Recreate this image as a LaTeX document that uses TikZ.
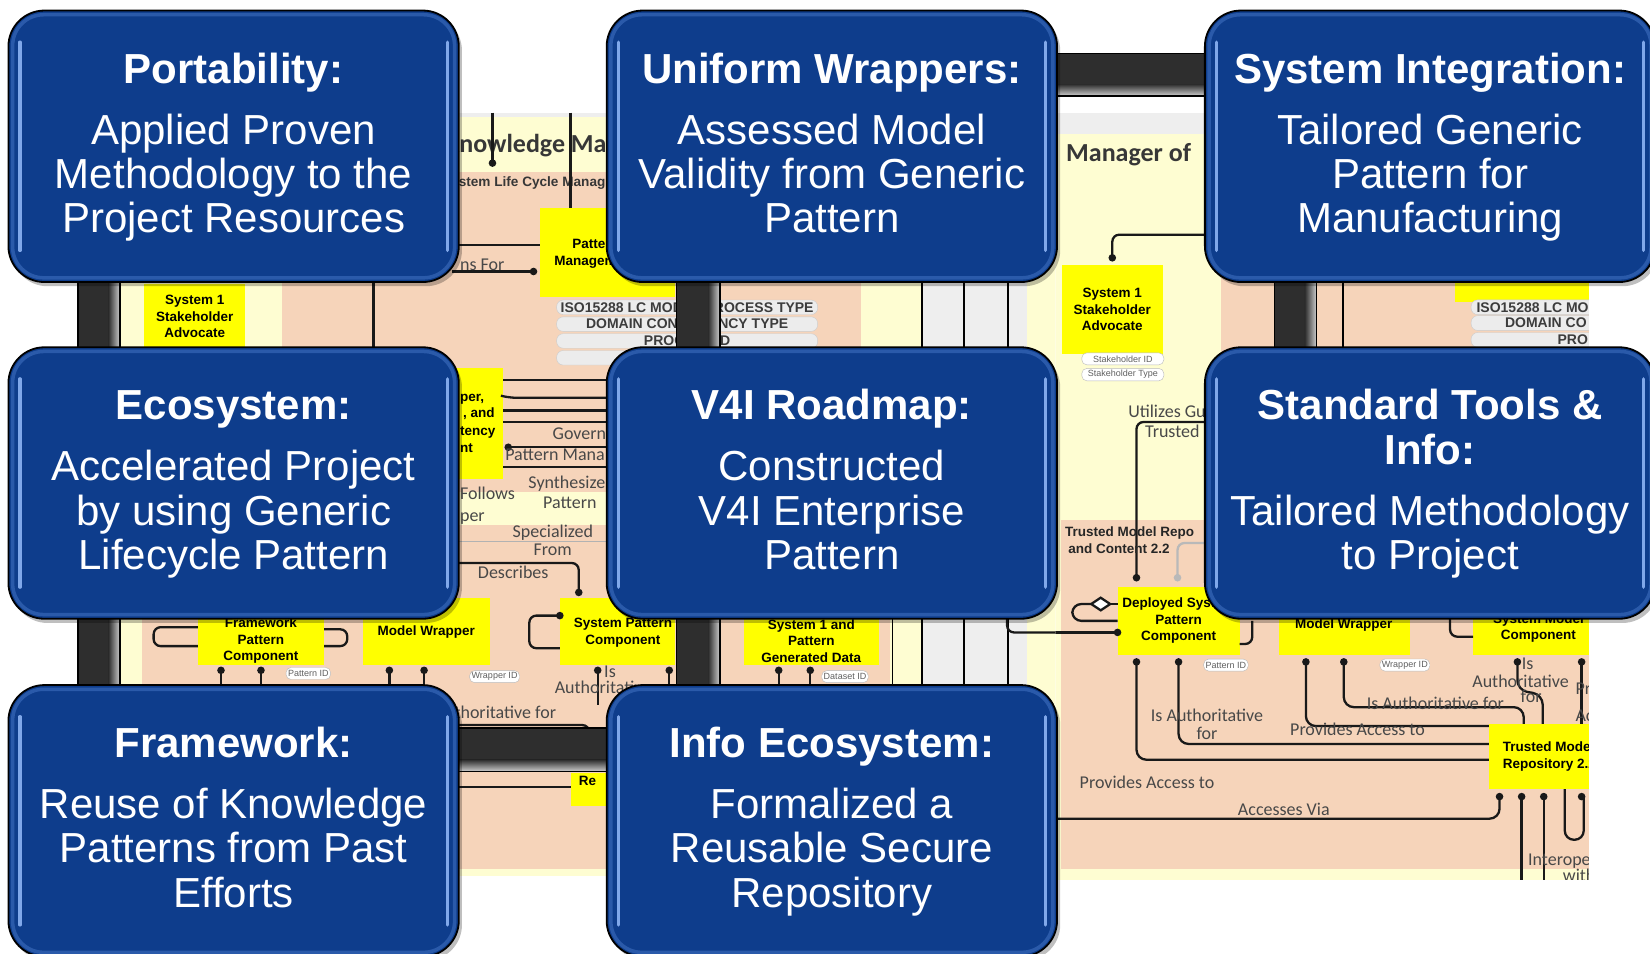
\documentclass[tikz,border=0pt]{standalone}
\usepackage{fontspec}
\setmainfont{Liberation Sans}
\newfontfamily\calib{Carlito}
\usetikzlibrary{calc}

\definecolor{panelblue}{RGB}{14,61,140}
\definecolor{panelrim}{RGB}{50,98,178}
\definecolor{panelglint}{RGB}{128,168,234}
\definecolor{salmon}{RGB}{246,212,186}
\definecolor{cream}{RGB}{254,253,210}
\definecolor{lanegray}{RGB}{238,238,238}
\definecolor{pillgray}{RGB}{236,236,236}
\definecolor{pilltext}{RGB}{60,60,60}
\definecolor{chartyellow}{RGB}{255,255,0}
\definecolor{bardark}{RGB}{46,46,46}
\definecolor{barlight}{RGB}{205,205,205}
\definecolor{labelgray}{RGB}{72,72,72}
\definecolor{wireblack}{RGB}{25,25,25}
\definecolor{titlegray}{RGB}{55,55,55}

\tikzset{
  panel/.style={draw=black, line width=1.8pt, fill=panelblue, rounded corners=36pt,
    minimum width=450.4pt, minimum height=271.5pt, inner sep=0pt, outer sep=0pt},
  ttl/.style={anchor=base, text=white, inner sep=0pt,
    font=\fontsize{42pt}{44pt}\selectfont\bfseries},
  body/.style={anchor=base, text=white, inner sep=0pt,
    font=\fontsize{42pt}{44pt}\selectfont},
  wire/.style={draw=wireblack, line width=2.3pt, rounded corners=7pt},
  ybox/.style={fill=chartyellow},
  ylab/.style={inner sep=0pt, text=black, align=center,
    font=\fontsize{13.5pt}{16.5pt}\selectfont\bfseries},
  clab/.style={inner sep=0pt, text=labelgray,
    font=\calib\fontsize{18pt}{20pt}\selectfont},
  pill/.style={draw=gray!40, fill=pillgray, rounded corners=6.5pt, minimum height=14.5pt,
    inner sep=0pt, text=pilltext, font=\fontsize{14pt}{14pt}\selectfont\bfseries},
  pilltxt/.style={anchor=west, inner sep=0pt, text=pilltext,
    font=\fontsize{14pt}{14pt}\selectfont\bfseries},
  tag/.style={draw=gray!55, fill=white, rounded corners=5pt, minimum height=12pt,
    inner sep=2pt, text=gray!75!black, font=\fontsize{9pt}{9pt}\selectfont},
  barline/.style={draw=black, line width=1.6pt},
}

\newcommand\wiredot[1]{\fill[wireblack] #1 circle[radius=3.8pt];}

\newcommand\panelbox[3]{%
  \fill[black, opacity=0.25, rounded corners=36pt]
    ($(#2,#3)+(-211,-125)$) rectangle ($(#2,#3)+(217,133)$);
  \node[panel] (#1) at (#2,#3) {};
  \draw[panelrim, line width=3.5pt, rounded corners=31pt, opacity=0.8]
    ($(#1.north west)+(4,4)$) rectangle ($(#1.south east)+(-4,-4)$);
  \draw[panelglint, line width=3.2pt, line cap=round]
    ($(#1.north west)+(11,30)$) -- ($(#1.south west)+(11,-30)$);
  \draw[panelglint, line width=3.2pt, line cap=round]
    ($(#1.north east)+(-11,30)$) -- ($(#1.south east)+(-11,-30)$);
}

\begin{document}
\begin{tikzpicture}[x=1.0523pt, y=-1.0523pt]
\useasboundingbox (0,0) rectangle (1568,906);
\fill[white] (0,0) rectangle (1568,906);

% ---------------- left chart ----------------
\begin{scope}
\clip (115,107) rectangle (1003,832);
\fill[cream] (115,107) rectangle (1003,832);
\fill[lanegray] (115,107) rectangle (1003,111);
\fill[salmon] (268,163) rectangle (818,330);
\fill[salmon] (135,330) rectangle (846,826);
\fill[cream] (418,468) rectangle (600,499);
\draw[gray!60, line width=1pt] (418,515) -- (600,515);
\fill[lanegray] (877,163) rectangle (976,826);
\draw[black, line width=1.6pt] (876,163) -- (876,826) (916,163) -- (916,826) (958,163) -- (958,826);
\draw[black, line width=1.6pt] (848,330) -- (848,826);

\node[anchor=base west, inner sep=0pt, text=titlegray, font=\calib\bfseries\fontsize{26pt}{28pt}\selectfont] (kmtitle) at (423,145) {Knowledge Ma};
\node[anchor=base west, inner sep=0pt, text=titlegray, font=\fontsize{13.6pt}{15pt}\selectfont\bfseries] (lcm) at (420,177) {System Life Cycle Manag};

\draw[wire] (468,107) -- (468,155);
\wiredot{(468,155)}
\draw[wire] (542,107) -- (542,198);

\fill[ybox] (513,198) rectangle (641,282);
\node[ylab] (pm) at (566,241) {Pattern\\Management};
\draw[wire] (430,233) -- (513,233);
\draw[wire] (430,258) -- (507,258);
\wiredot{(507,258)}
\node[clab, anchor=base west] (nsfor) at (437,257) {ns For};

\node[pill, minimum width=261pt] (lp1) at (653,292) {ISO15288 LC MODEL PROCESS TYPE};
\node[pill, minimum width=261pt] (lp2) at (653,308) {DOMAIN CONSISTENCY TYPE};
\node[pill, minimum width=261pt] (lp3) at (653,324) {PROCESS ID};
\node[pill, minimum width=261pt] (lp4) at (653,340) {};

\fill[ybox] (137,270) rectangle (233,345);
\node[ylab] (lsa) at (185,301) {System 1\\Stakeholder\\Advocate};
\draw[wire] (355,170) -- (355,345);

% middle lane
\fill[ybox] (420,350) rectangle (478,455);
\node[ylab, anchor=base west] (wp1) at (437,382) {per,};
\node[ylab, anchor=base west] (wp2) at (440,397) {, and};
\node[ylab, anchor=base west] (wp3) at (437,414) {tency};
\node[ylab, anchor=base west] (wp4) at (437,430) {nt};
\draw[wire] (478,361) -- (580,361);
\draw[wire] (476,376) -- (484,378) -- (580,378);
\draw[wire] (478,390) -- (580,390);
\draw[wire] (478,401) -- (580,401);
\draw[wire] (483,425) -- (580,425);
\wiredot{(483,425)}
\draw[wire] (478,444) -- (580,444);
\node[clab, anchor=base west] (govern) at (525,418) {Govern};
\node[clab, anchor=base west] (pmana) at (480,438) {Pattern Mana};
\node[clab, anchor=base west] (synth) at (502,464) {Synthesize};
\node[clab, anchor=base west] (follows) at (437,475) {Follows};
\node[clab, anchor=base west] (patt) at (516,483) {Pattern};
\node[clab, anchor=base west] (perw) at (437,496) {per};
\node[clab, anchor=base west] (spec) at (487,511) {Specialized};
\node[clab, anchor=base west] (from) at (507,528) {From};
\node[clab, anchor=base west] (descr) at (454,550) {Describes};
\draw[wire] (430,535) -- (550,535) -- (550,563);
\wiredot{(550,563)}

% lower row of components
\fill[ybox] (188,575) rectangle (308,632);
\node[ylab] (fpc) at (248,609) {Framework\\Pattern\\Component};
\draw[wire] (188,596) -- (146,596) -- (146,614) -- (188,614);
\draw[wire] (308,598) -- (330,598) -- (330,614) -- (308,614);
\fill[ybox] (345,568) rectangle (466,632);
\node[ylab] (mw) at (405,601) {Model Wrapper};
\fill[ybox] (532,568) rectangle (641,632);
\node[ylab] (spc) at (592,601) {System Pattern\\Component};
\draw[wire] (532,585) -- (503,585) -- (503,616) -- (532,616);
\wiredot{(532,585)}
\foreach \xx in {210,248,370,403,568,636,740,770} {
  \draw[wire] (\xx,637) -- (\xx,670);
  \wiredot{(\xx,637)}
}
\node[tag] (ptid) at (293,640) {Pattern ID};
\node[tag] (wrid) at (470,643) {Wrapper ID};
\node[tag] (dsid) at (803,643) {Dataset ID};
\node[clab, anchor=base west] (isl) at (574,644) {Is};
\node[clab, anchor=base west] (authl) at (527,659) {Authoritative};
\fill[ybox] (707,575) rectangle (835,632);
\node[ylab] (gd) at (771,609) {System 1 and\\Pattern\\Generated Data};
\draw[wire] (957,560) -- (957,601) -- (1010,601);

\node[clab, anchor=base west] (horit) at (398,683) {Is Authoritative for};
\draw[wire] (430,689) -- (560,689) -- (560,700);
\draw[wire] (430,748) -- (545,748);
\fill[ybox] (543,735) rectangle (585,766);
\node[ylab, anchor=base west] (rep) at (550,746) {Re};
\end{scope}

% ---------------- right chart ----------------
\begin{scope}
\clip (1003,107) rectangle (1510,836);
\fill[cream] (1003,107) rectangle (1510,836);
\fill[lanegray] (1003,107) rectangle (1510,127);
\fill[salmon] (1160,180) rectangle (1510,494);
\fill[salmon] (1008,494) rectangle (1510,826);
\draw[black, line width=1.6pt] (1276,200) -- (1276,340);

\node[anchor=base west, inner sep=0pt, text=titlegray, font=\calib\bfseries\fontsize{26pt}{28pt}\selectfont] (mgr) at (1013,153) {Manager of};

\draw[wire] (1150,223) -- (1057,223) -- (1057,245);
\wiredot{(1057,245)}
\fill[ybox] (1009,252) rectangle (1105,336);
\node[ylab] (rsa) at (1057,294) {System 1\\Stakeholder\\Advocate};
\node[tag, minimum width=82pt] (skid) at (1067,341) {Stakeholder ID};
\node[tag, minimum width=82pt] (sktp) at (1067,356) {Stakeholder Type};

\fill[ybox] (1383,200) rectangle (1515,287);
\foreach \yy in {292,307,323} {
  \filldraw[draw=gray!40, fill=pillgray, rounded corners=6.5pt] (1398,\yy-7) rectangle (1530,\yy+7);
}
\node[pilltxt] (rp1) at (1403,292) {ISO15288 LC MO};
\node[pilltxt] (rp2) at (1430,307) {DOMAIN CO};
\node[pilltxt] (rp3) at (1480,323) {PRO};

\node[clab, anchor=base west] (util) at (1072,397) {Utilizes Gu};
\node[clab, anchor=base west] (trst) at (1088,416) {Trusted};
\draw[wire] (1150,401) -- (1080,401) -- (1080,549);
\wiredot{(1080,549)}

\node[anchor=base west, inner sep=0pt, text=black!85, font=\fontsize{13.5pt}{15pt}\selectfont\bfseries] (tmr) at (1012,510) {Trusted Model Repo};
\node[anchor=base west, inner sep=0pt, text=black!85, font=\fontsize{13.5pt}{15pt}\selectfont\bfseries] (tmc) at (1015,526) {and Content 2.2};
\draw[wire, draw=gray!55] (1150,516) -- (1119,516) -- (1119,549);
\fill[gray!55] (1119,549) circle[radius=3.8pt];

\fill[ybox] (1062,558) rectangle (1178,622);
\node[ylab] (dsp) at (1120,590) {Deployed System\\Pattern\\Component};
\draw[wire, rounded corners=9pt] (1062,590) -- (1019,590) -- (1019,574) -- (1037,574);
\draw[wire, fill=white, rounded corners=0pt] (1037,574) -- (1046,568) -- (1055,574) -- (1046,580) -- cycle;
\draw[wire] (1055,574) -- (1062,574);
\draw[wire] (1003,601) -- (1062,601);
\wiredot{(1062,601)}
\draw[wire] (1178,612) -- (1190,612) -- (1190,590);

\fill[ybox] (1215,560) rectangle (1340,622);
\node[ylab] (rmw) at (1277,594) {Model Wrapper};
\fill[ybox] (1400,560) rectangle (1515,622);
\node[ylab] (smc) at (1462,597) {System Model\\Component};
\draw[wire] (1400,605) -- (1378,605) -- (1378,588);

\node[tag] (rptid) at (1165,632) {Pattern ID};
\node[tag] (rwrid) at (1335,632) {Wrapper ID};

\draw[wire, rounded corners=10pt] (1080,629) -- (1080,722) -- (1415,722);
\draw[wire, rounded corners=10pt] (1120,629) -- (1120,707) -- (1415,707);
\draw[wire, rounded corners=10pt] (1241,629) -- (1241,690) -- (1415,690);
\draw[wire, rounded corners=10pt] (1277,629) -- (1277,672) -- (1448,672) -- (1448,688);
\draw[wire, rounded corners=10pt] (1442,629) -- (1442,656) -- (1466,660) -- (1466,688);
\draw[wire] (1503,629) -- (1503,688);
\foreach \xx in {1080,1120,1241,1277,1442,1503} {\wiredot{(\xx,629)}}

\node[clab] (ia1) at (1147,680) {Is Authoritative};
\node[clab] (ia2) at (1147,697) {for};
\node[clab] (pa1) at (1290,693) {Provides Access to};
\node[clab] (ia3) at (1364,668) {Is Authoritative for};
\node[clab, anchor=base west] (is2) at (1446,636) {Is};
\node[clab] (au2) at (1445,647) {Authoritative};
\node[clab] (fo2) at (1455,662) {for};
\node[clab, anchor=base west] (pr2) at (1497,660) {Provides};
\node[clab, anchor=base west] (ac2) at (1497,686) {Access to};

\fill[ybox] (1415,688) rectangle (1515,750);
\node[anchor=base west, inner sep=0pt, font=\fontsize{13.5pt}{15pt}\selectfont\bfseries] (tm1) at (1428,714) {Trusted Model};
\node[anchor=base west, inner sep=0pt, font=\fontsize{13.5pt}{15pt}\selectfont\bfseries] (tm2) at (1428,730) {Repository 2.2};
\foreach \xx in {1425,1446,1467,1503} {\wiredot{(\xx,757)}}
\draw[wire, rounded corners=10pt] (1425,757) -- (1425,778) -- (1000,778);
\draw[wire] (1446,757) -- (1446,840);
\draw[wire] (1467,757) -- (1467,840);
\draw[wire, rounded corners=9pt] (1487,750) -- (1487,798) -- (1505,798) -- (1505,757);
\node[clab] (pa2) at (1090,743) {Provides Access to};
\node[clab] (accv) at (1220,769) {Accesses Via};
\node[clab, anchor=base west] (inter) at (1452,822) {Interoperates};
\node[clab, anchor=base west] (withw) at (1485,838) {with};
\end{scope}

% ---------------- connector bars ----------------
\fill[bardark] (74,200) rectangle (114,720);
\shade[left color=bardark, right color=barlight] (103,200) rectangle (114,720);
\draw[barline] (74,200) -- (74,720) (114,200) -- (114,720);

\fill[bardark] (643,200) rectangle (684,720);
\shade[left color=bardark, right color=barlight] (673,200) rectangle (684,720);
\draw[barline] (643,200) -- (643,720) (684,200) -- (684,720);

\fill[bardark] (1211,200) rectangle (1251,400);
\shade[left color=bardark, right color=barlight] (1240,200) rectangle (1251,400);
\draw[barline] (1211,200) -- (1211,400) (1251,200) -- (1251,400);

\fill[bardark] (950,51) rectangle (1200,91);
\shade[top color=bardark, bottom color=barlight] (950,80) rectangle (1200,91);
\draw[barline] (950,51) -- (1200,51) (950,91) -- (1200,91);

\fill[bardark] (400,692) rectangle (600,733);
\shade[top color=bardark, bottom color=barlight] (400,722) rectangle (600,733);
\draw[barline] (400,692) -- (600,692) (400,733) -- (600,733);

% ---------------- panels ----------------
\panelbox{port}{222}{139}
\panelbox{wrap}{790.5}{139}
\panelbox{sysint}{1359}{139}
\panelbox{eco}{222}{459}
\panelbox{road}{790.5}{459}
\panelbox{tools}{1359}{459}
\panelbox{frame}{222}{780}
\panelbox{infoeco}{790.5}{780}

\node[ttl]  (port-t) at ($(port.north)+(0,69)$) {Portability:};
\node[body] (port-1) at ($(port.north)+(0,127)$) {Applied Proven};
\node[body] (port-2) at ($(port.north)+(0,169)$) {Methodology to the};
\node[body] (port-3) at ($(port.north)+(0,211)$) {Project Resources};

\node[ttl]  (wrap-t) at ($(wrap.north)+(0,69)$) {Uniform Wrappers:};
\node[body] (wrap-1) at ($(wrap.north)+(0,127)$) {Assessed Model};
\node[body] (wrap-2) at ($(wrap.north)+(0,169)$) {Validity from Generic};
\node[body] (wrap-3) at ($(wrap.north)+(0,211)$) {Pattern};

\node[ttl]  (sysint-t) at ($(sysint.north)+(0,69)$) {System Integration:};
\node[body] (sysint-1) at ($(sysint.north)+(0,127)$) {Tailored Generic};
\node[body] (sysint-2) at ($(sysint.north)+(0,169)$) {Pattern for};
\node[body] (sysint-3) at ($(sysint.north)+(0,211)$) {Manufacturing};

\node[ttl]  (eco-t) at ($(eco.north)+(0,69)$) {Ecosystem:};
\node[body] (eco-1) at ($(eco.north)+(0,127)$) {Accelerated Project};
\node[body] (eco-2) at ($(eco.north)+(0,169)$) {by using Generic};
\node[body] (eco-3) at ($(eco.north)+(0,211)$) {Lifecycle Pattern};

\node[ttl]  (road-t) at ($(road.north)+(0,69)$) {V4I Roadmap:};
\node[body] (road-1) at ($(road.north)+(0,127)$) {Constructed};
\node[body] (road-2) at ($(road.north)+(0,169)$) {V4I Enterprise};
\node[body] (road-3) at ($(road.north)+(0,211)$) {Pattern};

\node[ttl]  (tools-t) at ($(tools.north)+(0,69)$) {Standard Tools \&};
\node[ttl]  (tools-u) at ($(tools.north)+(0,111)$) {Info:};
\node[body] (tools-1) at ($(tools.north)+(0,169)$) {Tailored Methodology};
\node[body] (tools-2) at ($(tools.north)+(0,211)$) {to Project};

\node[ttl]  (frame-t) at ($(frame.north)+(0,69)$) {Framework:};
\node[body] (frame-1) at ($(frame.north)+(0,127)$) {Reuse of Knowledge};
\node[body] (frame-2) at ($(frame.north)+(0,169)$) {Patterns from Past};
\node[body] (frame-3) at ($(frame.north)+(0,211)$) {Efforts};

\node[ttl]  (infoeco-t) at ($(infoeco.north)+(0,69)$) {Info Ecosystem:};
\node[body] (infoeco-1) at ($(infoeco.north)+(0,127)$) {Formalized a};
\node[body] (infoeco-2) at ($(infoeco.north)+(0,169)$) {Reusable Secure};
\node[body] (infoeco-3) at ($(infoeco.north)+(0,211)$) {Repository};
\end{tikzpicture}
\end{document}
